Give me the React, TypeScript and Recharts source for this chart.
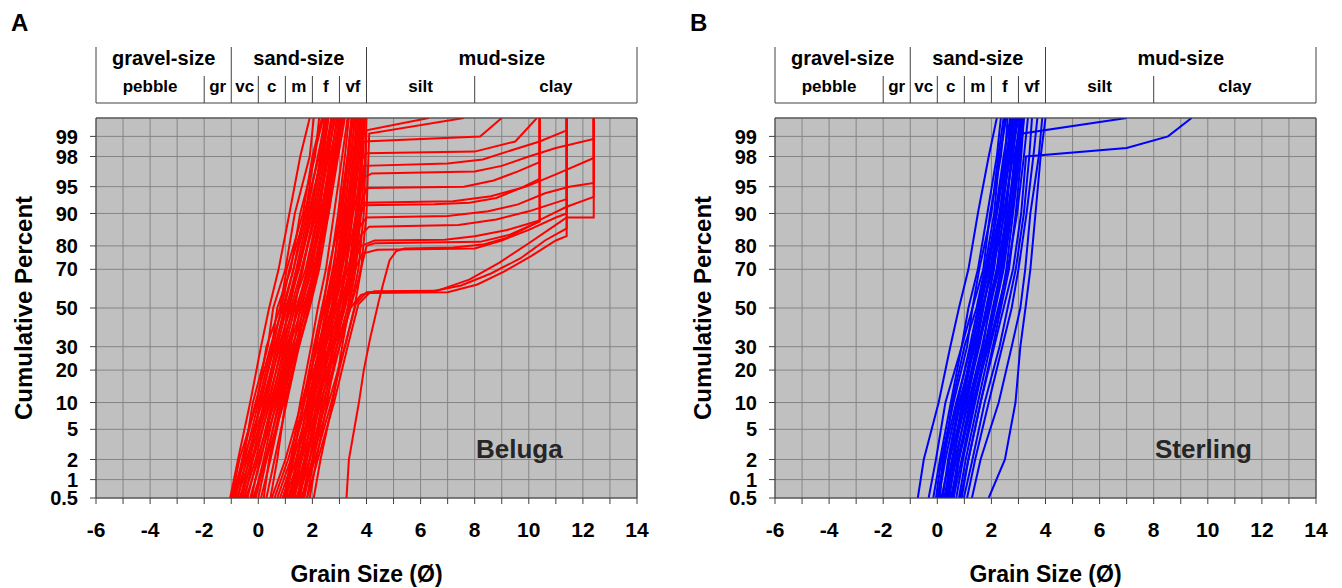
import React from 'react';
import { LineChart, Line, XAxis, YAxis, CartesianGrid, ReferenceLine } from 'recharts';

const FONT = '"Liberation Sans", Arial, Helvetica, sans-serif';

// cumulative percent levels at which the sand curves were read
const levels = [0.5, 2, 10, 30, 50, 70, 90, 98, 99.5];

// Beluga: sand-only curves, phi value at each level
const belugaSand = [
  [-1.04, -0.75, -0.3, 0.1, 0.4, 0.75, 1.15, 1.55, 1.9],
  [-1.0, -0.55, -0.2, 0.35, 0.55, 1.0, 1.35, 1.9, 2.05],
  [-0.98, -0.7, -0.05, 0.3, 0.8, 1.05, 1.65, 2.0, 2.35],
  [-0.95, -0.5, 0.0, 0.5, 0.7, 1.2, 1.55, 2.1, 2.25],
  [-0.9, -0.6, -0.1, 0.45, 0.9, 1.3, 1.8, 2.2, 2.5],
  [-0.88, -0.4, 0.1, 0.55, 0.85, 1.15, 1.75, 2.05, 2.4],
  [-0.85, -0.55, 0.15, 0.7, 1.05, 1.4, 1.85, 2.35, 2.55],
  [-0.8, -0.3, 0.05, 0.6, 1.0, 1.5, 2.0, 2.4, 2.6],
  [-0.75, -0.45, 0.25, 0.65, 0.95, 1.3, 1.7, 2.25, 2.45],
  [-0.7, -0.2, 0.2, 0.8, 1.15, 1.45, 1.95, 2.3, 2.55],
  [-0.65, -0.35, 0.3, 0.75, 1.2, 1.6, 2.1, 2.45, 2.7],
  [-0.6, -0.25, 0.35, 0.9, 1.1, 1.5, 1.9, 2.35, 2.5],
  [-0.55, -0.1, 0.4, 0.85, 1.3, 1.65, 2.05, 2.5, 2.75],
  [-0.5, -0.2, 0.45, 1.0, 1.35, 1.6, 2.15, 2.55, 2.7],
  [-0.45, 0.0, 0.5, 0.95, 1.25, 1.75, 2.2, 2.6, 2.8],
  [-0.4, -0.05, 0.6, 1.1, 1.45, 1.8, 2.25, 2.55, 2.85],
  [-0.3, 0.1, 0.55, 1.05, 1.5, 1.9, 2.3, 2.7, 2.9],
  [-0.25, 0.05, 0.7, 1.2, 1.4, 1.85, 2.35, 2.65, 2.95],
  [-0.2, 0.3, 0.95, 1.5, 1.9, 2.25, 2.6, 2.9, 3.1],
  [-0.15, 0.2, 0.65, 1.15, 1.6, 1.95, 2.4, 2.75, 3.0],
  [-0.1, 0.25, 0.8, 1.3, 1.55, 2.0, 2.3, 2.8, 3.0],
  [0.0, 0.3, 0.75, 1.25, 1.7, 2.05, 2.45, 2.8, 3.05],
  [0.1, 0.45, 0.9, 1.4, 1.65, 2.1, 2.5, 2.85, 3.1],
  [0.2, 0.4, 0.85, 1.35, 1.8, 2.15, 2.55, 2.9, 3.1],
  [0.3, 0.6, 1.05, 1.5, 1.85, 2.2, 2.5, 2.85, 3.15],
  [0.45, 0.7, 1.0, 1.45, 1.75, 2.1, 2.6, 2.95, 3.2],
  [0.95, 1.2, 1.55, 1.95, 2.2, 2.5, 2.8, 3.1, 3.3],
  [1.0, 1.3, 1.65, 2.05, 2.35, 2.65, 2.95, 3.2, 3.35],
  [1.05, 1.25, 1.7, 2.15, 2.4, 2.6, 3.05, 3.3, 3.45],
  [1.15, 1.45, 1.8, 2.1, 2.45, 2.75, 3.1, 3.35, 3.5],
  [1.2, 1.4, 1.85, 2.25, 2.5, 2.8, 3.0, 3.3, 3.45],
  [1.25, 1.55, 1.9, 2.3, 2.55, 2.85, 3.15, 3.45, 3.55],
  [1.3, 1.6, 1.95, 2.35, 2.6, 2.9, 3.2, 3.4, 3.6],
  [1.35, 1.55, 2.0, 2.4, 2.7, 2.95, 3.25, 3.5, 3.65],
  [1.45, 1.7, 2.05, 2.45, 2.75, 3.0, 3.3, 3.55, 3.7],
  [1.5, 1.8, 2.15, 2.5, 2.8, 3.05, 3.35, 3.6, 3.7],
  [1.55, 1.75, 2.2, 2.6, 2.85, 3.1, 3.4, 3.65, 3.75],
  [1.65, 1.9, 2.25, 2.65, 2.95, 3.2, 3.45, 3.7, 3.8],
  [1.7, 2.0, 2.35, 2.75, 3.0, 3.25, 3.5, 3.75, 3.85],
  [1.8, 2.05, 2.45, 2.8, 3.1, 3.35, 3.6, 3.8, 3.9],
  [1.9, 2.15, 2.55, 2.9, 3.15, 3.4, 3.65, 3.85, 3.95],
  [2.05, 2.3, 2.75, 3.1, 3.35, 3.6, 3.8, 3.95, 4.0],
];

// Beluga: curves with a mud tail, [phi, cumulative %]
const belugaMud = [
  [[1.3, 0.5], [1.7, 2], [2.3, 10], [2.9, 30], [3.4, 50], [3.8, 57], [4.3, 59], [6.6, 59.2], [7.8, 65], [8.9, 73], [10.0, 81], [11.0, 87], [11.4, 89], [12.4, 89], [12.4, 99.5]],
  [[1.6, 0.5], [2.0, 2], [2.6, 10], [3.2, 30], [3.6, 52], [4.0, 58.5], [6.4, 58.8], [7.5, 62], [8.6, 68], [9.7, 75], [10.6, 82], [11.4, 86], [11.4, 99.5]],
  [[3.26, 0.5], [3.35, 2], [3.72, 10], [3.9, 20], [4.15, 35], [4.46, 54], [4.6, 62], [4.85, 74], [5.1, 78], [5.4, 79], [7.2, 79.4], [8.3, 80.5], [9.2, 83], [10.0, 86.5], [10.4, 88], [10.4, 99.5]],
  [[1.1, 0.5], [1.5, 2], [2.1, 10], [2.7, 30], [3.1, 50], [3.5, 68], [3.85, 77], [4.4, 78.5], [8.0, 79], [9.0, 82], [10.0, 85.5], [11.0, 89], [11.4, 90], [11.4, 99.5]],
  [[0.9, 0.5], [1.4, 2], [2.0, 10], [2.6, 30], [3.0, 50], [3.4, 70], [3.8, 80], [4.3, 82], [6.9, 82.3], [8.0, 83.5], [9.2, 85.5], [10.3, 88], [11.4, 91.5], [12.4, 93.4], [12.4, 99.5]],
  [[1.2, 0.5], [1.6, 2], [2.2, 10], [2.8, 30], [3.2, 50], [3.55, 70], [3.8, 84], [4.1, 86.5], [7.4, 87], [8.8, 88.5], [10.0, 90.5], [10.8, 92], [11.4, 93], [11.4, 99.5]],
  [[0.8, 0.5], [1.3, 2], [1.9, 10], [2.5, 30], [2.9, 50], [3.3, 70], [3.7, 86], [4.0, 89], [7.0, 89.4], [8.5, 90.5], [9.6, 92], [10.6, 94], [11.5, 95], [12.4, 95.5], [12.4, 99.5]],
  [[1.1, 0.5], [1.6, 2], [2.2, 10], [2.8, 30], [3.2, 50], [3.5, 70], [3.7, 88], [3.9, 91.8], [6.5, 92], [7.8, 92.3], [8.8, 93.2], [9.7, 94.8], [10.4, 96], [10.4, 99.5]],
  [[0.7, 0.5], [1.2, 2], [1.8, 10], [2.4, 30], [2.8, 50], [3.2, 70], [3.6, 89], [3.85, 92.3], [7.2, 92.6], [8.6, 93.5], [9.9, 95], [11.0, 96.5], [12.4, 97.9], [12.4, 99.5]],
  [[1.3, 0.5], [1.8, 2], [2.3, 10], [2.9, 30], [3.3, 50], [3.6, 75], [3.8, 92], [4.0, 94.8], [7.6, 95], [8.7, 95.8], [9.6, 96.8], [10.4, 97.6], [10.4, 99.5]],
  [[0.6, 0.5], [1.1, 2], [1.7, 10], [2.3, 30], [2.7, 50], [3.1, 70], [3.5, 90], [3.8, 96], [4.2, 96.6], [8.0, 96.8], [9.0, 97.3], [10.0, 98], [11.0, 98.5], [12.4, 98.9], [12.4, 99.5]],
  [[1.0, 0.5], [1.5, 2], [2.1, 10], [2.7, 30], [3.1, 50], [3.45, 70], [3.7, 90], [3.9, 97.3], [7.0, 97.5], [8.3, 97.8], [9.2, 98.3], [10.4, 98.8], [11.4, 99.2], [11.4, 99.5]],
  [[0.5, 0.5], [1.0, 2], [1.6, 10], [2.2, 30], [2.6, 50], [3.0, 70], [3.4, 90], [3.7, 97.5], [4.0, 98.2], [8.0, 98.3], [9.5, 98.8], [10.3, 99.5]],
  [[0.9, 0.5], [1.4, 2], [2.0, 10], [2.6, 30], [3.0, 50], [3.4, 70], [3.7, 90], [3.9, 98.8], [8.2, 99], [9.0, 99.5]],
  [[1.4, 0.5], [1.9, 2], [2.5, 10], [3.0, 30], [3.4, 50], [3.7, 70], [3.9, 90], [4.0, 99.2], [6.3, 99.5]],
  [[1.6, 0.5], [2.1, 2], [2.7, 10], [3.2, 30], [3.55, 50], [3.8, 70], [4.0, 90], [4.1, 99.1], [7.6, 99.5]],
  [[1.8, 0.5], [2.2, 2], [2.8, 10], [3.3, 30], [3.7, 52], [4.1, 58], [7.0, 58.5], [8.1, 62.5], [9.1, 69], [10.1, 76], [11.0, 82], [11.4, 83.5], [11.4, 99.5]],
  [[1.5, 0.5], [1.9, 2], [2.4, 10], [3.0, 30], [3.4, 50], [3.7, 65], [4.0, 80], [4.3, 81], [8.2, 81.5], [9.3, 84], [10.4, 88], [10.4, 99.5]],
];

// Sterling: sand-only curves, phi value at each level
const sterlingSand = [
  [-0.72, -0.5, 0.05, 0.48, 0.8, 1.15, 1.5, 1.9, 2.2],
  [-0.32, -0.05, 0.3, 0.9, 1.15, 1.5, 1.85, 2.2, 2.35],
  [-0.15, 0.1, 0.5, 0.9, 1.3, 1.55, 2.0, 2.25, 2.45],
  [-0.05, 0.15, 0.6, 1.1, 1.3, 1.7, 1.95, 2.35, 2.5],
  [0.0, 0.25, 0.55, 1.0, 1.45, 1.75, 2.1, 2.3, 2.55],
  [0.05, 0.3, 0.75, 1.2, 1.5, 1.8, 2.2, 2.5, 2.6],
  [0.1, 0.2, 0.7, 1.25, 1.6, 1.9, 2.15, 2.45, 2.7],
  [0.15, 0.45, 0.85, 1.3, 1.55, 1.85, 2.3, 2.6, 2.7],
  [0.2, 0.4, 0.8, 1.4, 1.7, 2.0, 2.35, 2.55, 2.75],
  [0.25, 0.55, 0.95, 1.35, 1.65, 2.05, 2.4, 2.65, 2.8],
  [0.3, 0.45, 1.0, 1.5, 1.8, 2.1, 2.35, 2.7, 2.85],
  [0.3, 0.6, 0.9, 1.3, 1.55, 1.85, 2.2, 2.55, 2.8],
  [0.35, 0.55, 1.05, 1.55, 1.85, 2.05, 2.5, 2.75, 2.9],
  [0.4, 0.7, 1.1, 1.5, 1.9, 2.2, 2.45, 2.8, 2.95],
  [0.4, 0.6, 1.0, 1.45, 1.7, 1.95, 2.3, 2.6, 2.75],
  [0.45, 0.65, 1.15, 1.65, 1.95, 2.25, 2.55, 2.75, 3.0],
  [0.5, 0.8, 1.2, 1.7, 1.9, 2.3, 2.6, 2.9, 3.05],
  [0.55, 0.75, 1.25, 1.75, 2.05, 2.35, 2.65, 2.85, 3.1],
  [0.6, 0.9, 1.35, 1.8, 2.1, 2.4, 2.7, 2.95, 3.1],
  [0.6, 0.8, 1.3, 1.9, 2.25, 2.6, 2.95, 3.2, 3.35],
  [0.7, 0.95, 1.4, 1.85, 2.15, 2.45, 2.75, 3.0, 3.15],
  [0.8, 1.05, 1.5, 1.95, 2.3, 2.55, 2.8, 3.05, 3.2],
  [0.85, 1.15, 1.6, 2.05, 2.35, 2.65, 2.9, 3.1, 3.2],
  [0.98, 1.3, 1.75, 2.3, 2.6, 2.9, 3.2, 3.4, 3.5],
  [1.1, 1.4, 1.9, 2.4, 2.75, 3.0, 3.3, 3.55, 3.7],
  [1.28, 1.6, 2.27, 2.75, 3.07, 3.25, 3.44, 3.75, 3.88],
  [1.9, 2.5, 2.89, 3.07, 3.26, 3.44, 3.63, 3.82, 4.0],
];

// Sterling: curves with a mud tail, [phi, cumulative %]
const sterlingMud = [
  [[0.3, 0.5], [0.55, 2], [1.0, 10], [1.5, 30], [1.85, 50], [2.2, 70], [2.6, 90], [2.95, 98], [3.16, 99.1], [7.0, 99.5]],
  [[0.9, 0.5], [1.15, 2], [1.6, 10], [2.1, 30], [2.45, 50], [2.8, 70], [3.1, 90], [3.28, 98], [7.0, 98.5], [8.53, 99.0], [9.4, 99.5]],
];

const xTicks = [-6, -5, -4, -3, -2, -1, 0, 1, 2, 3, 4, 5, 6, 7, 8, 9, 10, 11, 12, 13, 14];
const yTickPercents = [0.5, 1, 2, 5, 10, 20, 30, 50, 70, 80, 90, 95, 98, 99];

// Wentworth classes along the phi axis
const sizeClasses = [
  { label: 'gravel-size', from: -6, to: -1 },
  { label: 'sand-size', from: -1, to: 4 },
  { label: 'mud-size', from: 4, to: 14 },
];
const subClasses = [
  { label: 'pebble', from: -6, to: -2 },
  { label: 'gr', from: -2, to: -1 },
  { label: 'vc', from: -1, to: 0 },
  { label: 'c', from: 0, to: 1 },
  { label: 'm', from: 1, to: 2 },
  { label: 'f', from: 2, to: 3 },
  { label: 'vf', from: 3, to: 4 },
  { label: 'silt', from: 4, to: 8 },
  { label: 'clay', from: 8, to: 14 },
];

// inverse normal cdf (Acklam) for the probability axis
function probit(p: number): number {
  const a = [-39.69683028665376, 220.9460984245205, -275.9285104469687, 138.357751867269, -30.66479806614716, 2.506628277459239];
  const b = [-54.47609879822406, 161.5858368580409, -155.6989798598866, 66.80131188771972, -13.28068155288572];
  const c = [-0.007784894002430293, -0.3223964580411365, -2.400758277161838, -2.549732539343734, 4.374664141464968, 2.938163982698783];
  const d = [0.007784695709041462, 0.3224671290700398, 2.445134137142996, 3.754408661907416];
  const lo = 0.02425;
  if (p < lo) {
    const q = Math.sqrt(-2 * Math.log(p));
    return (((((c[0] * q + c[1]) * q + c[2]) * q + c[3]) * q + c[4]) * q + c[5]) / ((((d[0] * q + d[1]) * q + d[2]) * q + d[3]) * q + 1);
  }
  if (p <= 1 - lo) {
    const q = p - 0.5;
    const r = q * q;
    return ((((((a[0] * r + a[1]) * r + a[2]) * r + a[3]) * r + a[4]) * r + a[5]) * q) / (((((b[0] * r + b[1]) * r + b[2]) * r + b[3]) * r + b[4]) * r + 1);
  }
  const q = Math.sqrt(-2 * Math.log(1 - p));
  return -(((((c[0] * q + c[1]) * q + c[2]) * q + c[3]) * q + c[4]) * q + c[5]) / ((((d[0] * q + d[1]) * q + d[2]) * q + d[3]) * q + 1);
}

const yTicks = yTickPercents.map((p) => probit(p / 100));
const yDomain = [probit(0.005), probit(0.995)];

const fmtPct = (v: number) => {
  const i = yTicks.findIndex((t) => Math.abs(t - v) < 1e-6);
  return i >= 0 ? String(yTickPercents[i]) : '';
};

const sandPoints = (phis: number[]) => phis.map((phi, i) => ({ x: phi, y: probit(levels[i] / 100) }));
const mudPoints = (pts: number[][]) => pts.map(([phi, pct]) => ({ x: phi, y: probit(pct / 100) }));

// chart frame
const W = 663;
const H = 588;
const PLOT_L = 96;
const PLOT_R = 637;
const PLOT_T = 118;
const PLOT_B = 498;
const phiX = (phi: number) => PLOT_L + ((phi + 6) / 20) * (PLOT_R - PLOT_L);

const xTickStyle = { fontSize: 21, fontWeight: 700, fill: '#000', fontFamily: FONT };
const yTickStyle = { fontSize: 20, fontWeight: 700, fill: '#000', fontFamily: FONT };

function Header() {
  const top = 47;
  const mid = 76;
  const bot = 103;
  const fullLines = [-6, -1, 4, 14];
  const subLines = [-2, 0, 1, 2, 3, 8];
  return (
    <g stroke="#404040" strokeWidth={1}>
      {fullLines.map((v) => (
        <line key={'f' + v} x1={phiX(v)} x2={phiX(v)} y1={top} y2={bot} />
      ))}
      {subLines.map((v) => (
        <line key={'s' + v} x1={phiX(v)} x2={phiX(v)} y1={mid} y2={bot} />
      ))}
      <line x1={phiX(-6)} x2={phiX(14)} y1={bot} y2={bot} />
      {sizeClasses.map((c) => (
        <text key={c.label} x={(phiX(c.from) + phiX(c.to)) / 2} y={65} textAnchor="middle" stroke="none" fill="#000" fontSize={20} fontWeight={700} fontFamily={FONT}>
          {c.label}
        </text>
      ))}
      {subClasses.map((c) => (
        <text key={c.label} x={(phiX(c.from) + phiX(c.to)) / 2} y={92} textAnchor="middle" stroke="none" fill="#000" fontSize={17} fontWeight={700} fontFamily={FONT}>
          {c.label}
        </text>
      ))}
    </g>
  );
}

function Panel({ left, letter, site, color, sand, mud }: any) {
  return (
    <div style={{ position: 'absolute', left, top: 0, width: W, height: H }}>
      <LineChart width={W} height={H} margin={{ top: PLOT_T - 5, right: W - PLOT_R, bottom: 0, left: 0 }}>
        <CartesianGrid stroke="#858585" fill="#c0c0c0" fillOpacity={1} />
        <XAxis
          type="number"
          dataKey="x"
          domain={[-6, 14]}
          ticks={xTicks}
          interval={0}
          allowDataOverflow
          height={H - PLOT_B}
          tickSize={6}
          tickMargin={18}
          tickFormatter={(v: number) => (v % 2 === 0 ? String(v) : '')}
          axisLine={{ stroke: '#404040' }}
          tickLine={{ stroke: '#404040' }}
          tick={xTickStyle}
        />
        <XAxis
          xAxisId="top"
          orientation="top"
          type="number"
          dataKey="x"
          domain={[-6, 14]}
          ticks={xTicks}
          interval={0}
          height={5}
          tickSize={5}
          tickFormatter={() => ''}
          axisLine={{ stroke: '#404040' }}
          tickLine={{ stroke: '#404040' }}
        />
        <YAxis
          type="number"
          dataKey="y"
          domain={yDomain}
          ticks={yTicks}
          interval={0}
          allowDataOverflow
          width={PLOT_L}
          tickSize={6}
          tickMargin={12}
          tickFormatter={fmtPct}
          axisLine={{ stroke: '#404040' }}
          tickLine={{ stroke: '#404040' }}
          tick={yTickStyle}
        />
        <ReferenceLine x={14} stroke="#404040" />
        {sand.map((phis: number[], i: number) => (
          <Line key={'s' + i} data={sandPoints(phis)} dataKey="y" type="linear" stroke={color} strokeWidth={2} dot={false} activeDot={false} isAnimationActive={false} />
        ))}
        {mud.map((pts: number[][], i: number) => (
          <Line key={'m' + i} data={mudPoints(pts)} dataKey="y" type="linear" stroke={color} strokeWidth={2} dot={false} activeDot={false} isAnimationActive={false} />
        ))}
      </LineChart>
      <svg width={W} height={H} style={{ position: 'absolute', left: 0, top: 0, pointerEvents: 'none' }}>
        <text x={11} y={31} fontSize={24} fontWeight={700} fontFamily={FONT} fill="#000">
          {letter}
        </text>
        <Header />
        <text x={32} y={308} transform="rotate(-90, 32, 308)" textAnchor="middle" fontSize={24} fontWeight={700} fontFamily={FONT} fill="#000">
          Cumulative Percent
        </text>
        <text x={(PLOT_L + PLOT_R) / 2} y={582} textAnchor="middle" fontSize={23} fontWeight={700} fontFamily={FONT} fill="#000">
          Grain Size (Ø)
        </text>
        <text x={476} y={458} fontSize={26} fontWeight={700} fontFamily={FONT} fill="#262626">
          {site}
        </text>
      </svg>
    </div>
  );
}

export default function App() {
  return (
    <div style={{ position: 'absolute', left: 0, top: 0, width: 1342, height: 588, background: '#fff' }}>
      <Panel left={0} letter="A" site="Beluga" color="#ff0000" sand={belugaSand} mud={belugaMud} />
      <Panel left={679} letter="B" site="Sterling" color="#0000ff" sand={sterlingSand} mud={sterlingMud} />
    </div>
  );
}
